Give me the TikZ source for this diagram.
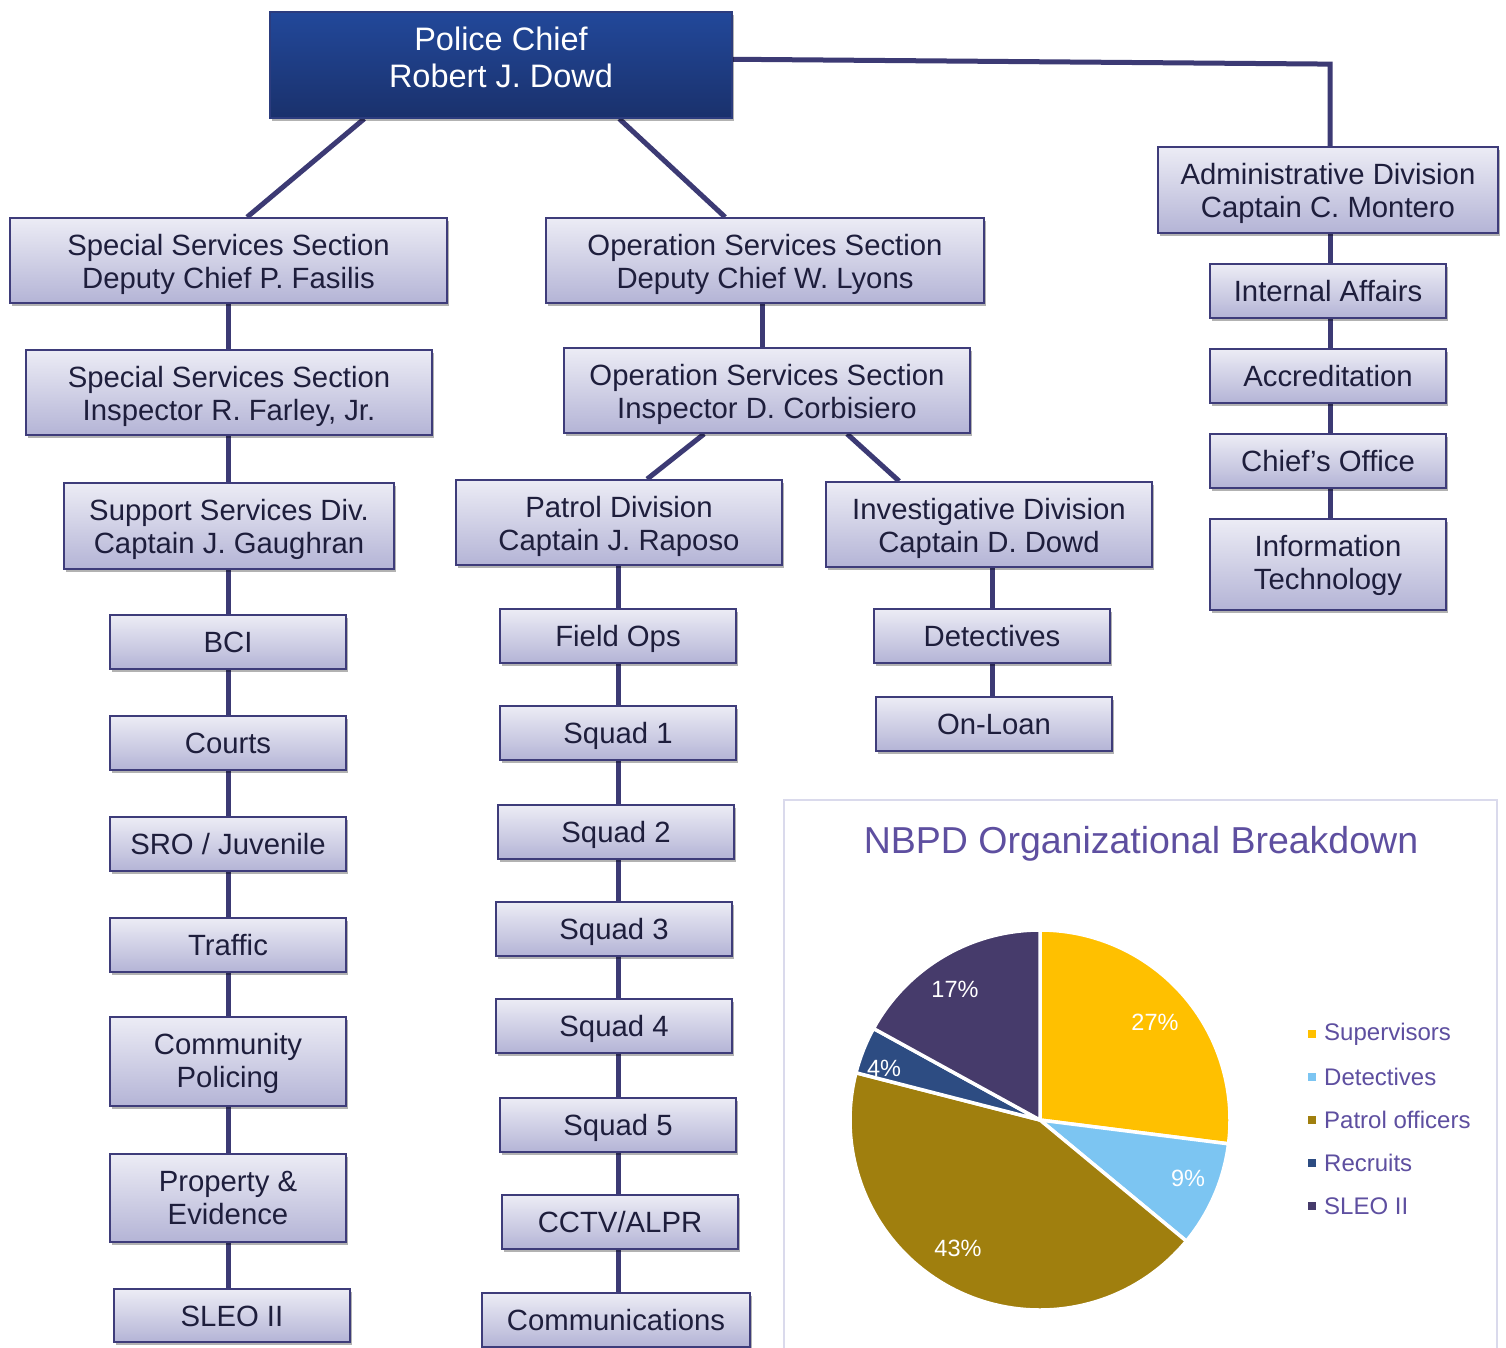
\documentclass[tikz,border=0pt]{standalone}
\usepackage{fontspec}
\setmainfont{Liberation Sans}
\usetikzlibrary{shadows,backgrounds,calc}
\definecolor{boxtop}{HTML}{ECECF5}
\definecolor{boxbot}{HTML}{B4B4D6}
\definecolor{boxline}{HTML}{3E3C7A}
\definecolor{boxtext}{HTML}{1E1E3C}
\definecolor{conn}{HTML}{3C3A74}
\definecolor{chieftop}{HTML}{22489A}
\definecolor{chiefbot}{HTML}{1A316C}
\definecolor{chiefline}{HTML}{2C3C7E}
\definecolor{cSup}{HTML}{FFC000}
\definecolor{cDet}{HTML}{7CC5F2}
\definecolor{cPat}{HTML}{A07F0E}
\definecolor{cRec}{HTML}{2D4C82}
\definecolor{cSleo}{HTML}{463B6B}
\definecolor{ctitle}{HTML}{5E4FA0}
\definecolor{cframe}{HTML}{DADAEC}
% text block whose first baseline sits #1 above the node centre
\newcommand\txtblk[2]{\raisebox{#1}[0pt][0pt]{\begin{tabular}[t]{@{}c@{}}#2\end{tabular}}}
\newcommand\two[1]{\txtblk{5.5pt}{#1}}
\newcommand\one[1]{\txtblk{-10.7pt}{#1}}
\begin{document}
\begin{tikzpicture}[x=1pt,y=-1pt,
  orgbox/.style={draw=boxline, line width=1.8pt, top color=boxtop, bottom color=boxbot,
    text=boxtext, inner sep=0pt, font=\fontsize{29.3}{33}\selectfont,
    drop shadow={shadow xshift=2pt, shadow yshift=-3pt, opacity=0.3, fill=black}},
  bigbox/.style={orgbox, minimum height=85pt},
  smallbox/.style={orgbox, minimum width=236pt, minimum height=54pt},
  chiefbox/.style={draw=chiefline, line width=1.5pt, top color=chieftop, bottom color=chiefbot,
    text=white, inner sep=0pt, font=\fontsize{32.5}{36.6}\selectfont,
    minimum width=462pt, minimum height=106pt,
    drop shadow={shadow xshift=2pt, shadow yshift=-3pt, opacity=0.3, fill=black}},
  link/.style={draw=conn, line width=5pt},
  pct/.style={text=white, font=\fontsize{23.5}{25}\selectfont},
  legtext/.style={text=ctitle, font=\fontsize{24}{27}\selectfont, anchor=west, inner sep=0pt},
  slice/.style={draw=white, line width=3.5pt, line join=round},
]
\useasboundingbox (0,0) rectangle (1506,1347);

% ---- org nodes ----
\node[chiefbox] (chief) at (501,65) {\txtblk{14.3pt}{Police Chief\\Robert J. Dowd}};
\node[bigbox, minimum width=437pt] (ssd) at (228.5,260.5) {\two{Special Services Section\\Deputy Chief P. Fasilis}};
\node[bigbox, minimum width=438pt] (osd) at (765,260.5) {\two{Operation Services Section\\Deputy Chief W. Lyons}};
\node[bigbox, minimum width=340pt, minimum height=86pt] (adm) at (1328,190) {\two{Administrative Division\\Captain C. Montero}};
\node[bigbox, minimum width=406pt] (ssi) at (229,392.5) {\two{Special Services Section\\Inspector R. Farley, Jr.}};
\node[bigbox, minimum width=406pt] (osi) at (767,390.5) {\two{Operation Services Section\\Inspector D. Corbisiero}};
\node[bigbox, minimum width=330pt, minimum height=86pt] (sup) at (229,526) {\two{Support Services Div.\\Captain J. Gaughran}};
\node[bigbox, minimum width=326pt] (pat) at (619,522.5) {\two{Patrol Division\\Captain J. Raposo}};
\node[bigbox, minimum width=326pt] (inv) at (989,524.5) {\two{Investigative Division\\Captain D. Dowd}};

\node[smallbox] (ia) at (1328,291) {\one{Internal Affairs}};
\node[smallbox] (acc) at (1328,376) {\one{Accreditation}};
\node[smallbox] (cho) at (1328,461) {\one{Chief’s Office}};
\node[smallbox, minimum height=91pt] (it) at (1328,564.5) {\txtblk{8pt}{Information\\Technology}};

\node[smallbox] (bci) at (228,642) {\one{BCI}};
\node[smallbox] (crt) at (228,743) {\one{Courts}};
\node[smallbox] (sro) at (228,844) {\one{SRO / Juvenile}};
\node[smallbox] (trf) at (228,945) {\one{Traffic}};
\node[smallbox, minimum height=89pt] (com) at (228,1061.5) {\txtblk{7.5pt}{Community\\Policing}};
\node[smallbox, minimum height=88pt] (prop) at (228,1198) {\txtblk{7pt}{Property \&\\Evidence}};
\node[smallbox, minimum height=53pt] (sleo) at (232,1315.5) {\one{SLEO II}};

\node[smallbox] (fop) at (618,636) {\one{Field Ops}};
\node[smallbox] (sq1) at (618,733) {\one{Squad 1}};
\node[smallbox] (sq2) at (616,832) {\one{Squad 2}};
\node[smallbox] (sq3) at (614,929) {\one{Squad 3}};
\node[smallbox] (sq4) at (614,1026) {\one{Squad 4}};
\node[smallbox] (sq5) at (618,1125) {\one{Squad 5}};
\node[smallbox] (cctv) at (620,1222) {\one{CCTV/ALPR}};
\node[smallbox, minimum width=268pt] (comm) at (616,1320) {\one{Communications}};

\node[smallbox] (det) at (992,636) {\one{Detectives}};
\node[smallbox] (onl) at (994,724) {\one{On-Loan}};

% ---- connectors ----
\coordinate (colL) at (228,0);
\coordinate (colM) at (618,0);
\coordinate (colO) at (762,0);
\coordinate (colI) at (992,0);
\coordinate (colA) at (1330,0);
\begin{scope}[on background layer]
\fill[white] (0,0) rectangle (1506,1347);
\draw[link] ($(chief.south west)+(95,0)$) -- ($(ssd.north west)+(238,0)$);
\draw[link] ($(chief.south west)+(350,0)$) -- ($(osd.north west)+(180,0)$);
\draw[link] ($(chief.north east)+(-2,48)$) -- ($(colA |- adm.north)+(0,-82)$) -- (colA |- adm.north);
\draw[link] (colO |- osd.south) -- (colO |- osi.north);
\draw[link] ($(osi.south west)+(141,0)$) -- ($(pat.north west)+(192,0)$);
\draw[link] ($(osi.south west)+(284,0)$) -- ($(inv.north west)+(74,0)$);
\foreach \a/\b in {ssd/ssi, ssi/sup, sup/bci, bci/crt, crt/sro, sro/trf, trf/com, com/prop, prop/sleo}
  \draw[link] (colL |- \a.south) -- (colL |- \b.north);
\foreach \a/\b in {pat/fop, fop/sq1, sq1/sq2, sq2/sq3, sq3/sq4, sq4/sq5, sq5/cctv, cctv/comm}
  \draw[link] (colM |- \a.south) -- (colM |- \b.north);
\foreach \a/\b in {inv/det, det/onl}
  \draw[link] (colI |- \a.south) -- (colI |- \b.north);
\foreach \a/\b in {adm/ia, ia/acc, acc/cho, cho/it}
  \draw[link] (colA |- \a.south) -- (colA |- \b.north);
\end{scope}

% ---- chart ----
\draw[cframe, line width=2pt] (784,800) rectangle (1497,1365);
\node[text=ctitle, font=\fontsize{37.5}{42}\selectfont] (title) at (1141,844) {NBPD Organizational Breakdown};
\begin{scope}[shift={(1040,1120)}, yscale=-1]
\filldraw[slice, fill=cSup] (0,0) -- (90:190) arc[start angle=90, end angle=-7.2, radius=190] -- cycle;
\filldraw[slice, fill=cDet] (0,0) -- (-7.2:190) arc[start angle=-7.2, end angle=-39.6, radius=190] -- cycle;
\filldraw[slice, fill=cPat] (0,0) -- (-39.6:190) arc[start angle=-39.6, end angle=-194.4, radius=190] -- cycle;
\filldraw[slice, fill=cRec] (0,0) -- (165.6:190) arc[start angle=165.6, end angle=151.2, radius=190] -- cycle;
\filldraw[slice, fill=cSleo] (0,0) -- (151.2:190) arc[start angle=151.2, end angle=90, radius=190] -- cycle;
\end{scope}
\node[pct] (p27) at (1155,1022) {27\%};
\node[pct] (p9) at (1188,1178) {9\%};
\node[pct] (p43) at (958,1248) {43\%};
\node[pct] (p4) at (884,1068) {4\%};
\node[pct] (p17) at (955,989) {17\%};

\fill[cSup] (1308,1030) rectangle (1316,1038);
\fill[cDet] (1308,1073) rectangle (1316,1081);
\fill[cPat] (1308,1116) rectangle (1316,1124);
\fill[cRec] (1308,1159) rectangle (1316,1167);
\fill[cSleo] (1308,1202) rectangle (1316,1210);
\node[legtext] (lg1) at (1324,1034) {Supervisors};
\node[legtext] (lg2) at (1324,1077) {Detectives};
\node[legtext] (lg3) at (1324,1120) {Patrol officers};
\node[legtext] (lg4) at (1324,1163) {Recruits};
\node[legtext] (lg5) at (1324,1206) {SLEO II};
\end{tikzpicture}
\end{document}
